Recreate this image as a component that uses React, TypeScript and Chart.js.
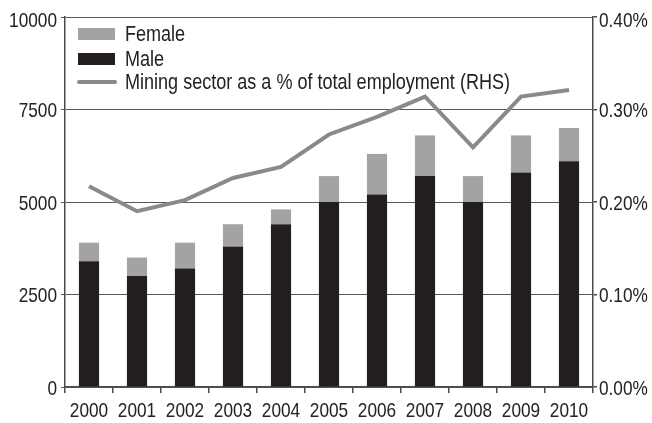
import React, { useEffect, useRef } from "react";
import { Chart, registerables } from "chart.js";

Chart.register(...registerables);

const years = ["2000", "2001", "2002", "2003", "2004", "2005", "2006", "2007", "2008", "2009", "2010"];
const male = [3400, 3000, 3200, 3800, 4400, 5000, 5200, 5700, 5000, 5800, 6100];
const female = [500, 500, 700, 600, 400, 700, 1100, 1100, 700, 1000, 900];
const miningShare = [0.217, 0.19, 0.202, 0.226, 0.238, 0.273, 0.292, 0.314, 0.259, 0.314, 0.321];
const leftTicks = [0, 2500, 5000, 7500, 10000];
const rightTicks = [0, 0.1, 0.2, 0.3, 0.4];
const legendLabels = ["Female", "Male", "Mining sector as a % of total employment (RHS)"];

const FEMALE_COLOR = "#a3a3a3";
const MALE_COLOR = "#231f20";
const LINE_COLOR = "#8a8a8a";
const AXIS_COLOR = "#4a4a4a";
const TEXT_COLOR = "#222222";
const FONT_FAMILY = "'Liberation Sans', Arial, sans-serif";
const FONT_SIZE = 21;
const LEGEND_FONT_SIZE = 22;
const NARROW = 0.82;

function narrowText(ctx: any, text: string, x: number, y: number, align: string) {
  ctx.save();
  ctx.translate(x, y);
  ctx.scale(NARROW, 1);
  ctx.textAlign = align;
  ctx.textBaseline = "middle";
  ctx.fillText(text, 0, 0);
  ctx.restore();
}

const textPlugin = {
  id: "narrowText",
  afterDraw(chart: any) {
    const { ctx, chartArea, scales } = chart;
    ctx.save();
    ctx.font = `${FONT_SIZE}px ${FONT_FAMILY}`;
    ctx.fillStyle = TEXT_COLOR;
    for (const v of leftTicks) {
      const dy = v === leftTicks[leftTicks.length - 1] ? 4 : 2;
      narrowText(ctx, String(v), chartArea.left - 8, scales.y.getPixelForValue(v) + dy, "right");
    }
    for (const v of rightTicks) {
      const dy = v === rightTicks[rightTicks.length - 1] ? 4 : 2;
      narrowText(ctx, v.toFixed(2) + "%", chartArea.right + 6, scales.y1.getPixelForValue(v) + dy, "left");
    }
    years.forEach((lab, i) => {
      narrowText(ctx, lab, scales.x.getPixelForValue(i), chartArea.bottom + 24, "center");
    });
    ctx.restore();
  },
  afterDatasetsDraw(chart: any) {
    const { ctx, chartArea } = chart;
    const x0 = chartArea.left + 13;
    const y0 = chartArea.top;
    const rows = [
      { type: "box", color: FEMALE_COLOR, cy: y0 + 17 },
      { type: "box", color: MALE_COLOR, cy: y0 + 42 },
      { type: "line", color: LINE_COLOR, cy: y0 + 65 },
    ];
    ctx.save();
    ctx.font = `${LEGEND_FONT_SIZE}px ${FONT_FAMILY}`;
    rows.forEach((it, i) => {
      if (it.type === "box") {
        ctx.fillStyle = it.color;
        ctx.fillRect(x0, it.cy - 6, 37, 12);
      } else {
        ctx.strokeStyle = it.color;
        ctx.lineWidth = 4;
        ctx.lineCap = "round";
        ctx.beginPath();
        ctx.moveTo(x0 + 1, it.cy);
        ctx.lineTo(x0 + 37, it.cy);
        ctx.stroke();
      }
      ctx.fillStyle = TEXT_COLOR;
      narrowText(ctx, legendLabels[i], x0 + 47, it.cy + 1, "left");
    });
    ctx.restore();
  },
};

export default function App() {
  const canvasRef = useRef<HTMLCanvasElement | null>(null);

  useEffect(() => {
    const canvas = canvasRef.current;
    if (!canvas) return;
    const chart = new Chart(canvas, {
      type: "bar",
      data: {
        labels: years,
        datasets: [
          {
            type: "line",
            label: legendLabels[2],
            data: miningShare,
            yAxisID: "y1",
            borderColor: LINE_COLOR,
            borderWidth: 4,
            pointRadius: 0,
            tension: 0,
            fill: false,
            order: 0,
          } as any,
          {
            label: legendLabels[1],
            data: male,
            backgroundColor: MALE_COLOR,
            yAxisID: "y",
            stack: "s",
            order: 1,
            barPercentage: 0.42,
            categoryPercentage: 1,
          },
          {
            label: legendLabels[0],
            data: female,
            backgroundColor: FEMALE_COLOR,
            yAxisID: "y",
            stack: "s",
            order: 1,
            barPercentage: 0.42,
            categoryPercentage: 1,
          },
        ],
      },
      options: {
        responsive: false,
        animation: false,
        layout: { padding: { top: 17, left: 0, right: 0, bottom: 0 } },
        plugins: { legend: { display: false }, tooltip: { enabled: false } },
        scales: {
          x: {
            stacked: true,
            offset: true,
            grid: {
              offset: true,
              drawOnChartArea: false,
              drawTicks: true,
              tickLength: 6,
              color: AXIS_COLOR,
              lineWidth: 1.5,
            },
            border: { display: true, color: AXIS_COLOR, width: 1.5 },
            ticks: { display: false, autoSkip: false },
            afterFit(scale: any) {
              scale.height = 36;
            },
          },
          y: {
            stacked: true,
            position: "left",
            min: 0,
            max: 10000,
            afterBuildTicks(scale: any) {
              scale.ticks = leftTicks.map((v) => ({ value: v }));
            },
            grid: {
              drawOnChartArea: true,
              drawTicks: true,
              tickLength: 4,
              color: "#5a5a5a",
              lineWidth: 1,
            },
            border: { display: true, color: AXIS_COLOR, width: 1.5 },
            ticks: { display: false },
            afterFit(scale: any) {
              scale.width = 65;
            },
          },
          y1: {
            position: "right",
            min: 0,
            max: 0.4,
            stacked: false,
            afterBuildTicks(scale: any) {
              scale.ticks = rightTicks.map((v) => ({ value: v }));
            },
            grid: {
              drawOnChartArea: false,
              drawTicks: true,
              tickLength: 4,
              color: AXIS_COLOR,
              lineWidth: 1.5,
            },
            border: { display: true, color: AXIS_COLOR, width: 1.5 },
            ticks: { display: false },
            afterFit(scale: any) {
              scale.width = 59;
            },
          },
        },
      },
      plugins: [textPlugin],
    });
    return () => chart.destroy();
  }, []);

  return (
    <div style={{ position: "absolute", left: 0, top: 0, width: 652, height: 423, background: "#ffffff" }}>
      <canvas ref={canvasRef} width={652} height={423} style={{ width: 652, height: 423, display: "block" }} />
    </div>
  );
}
